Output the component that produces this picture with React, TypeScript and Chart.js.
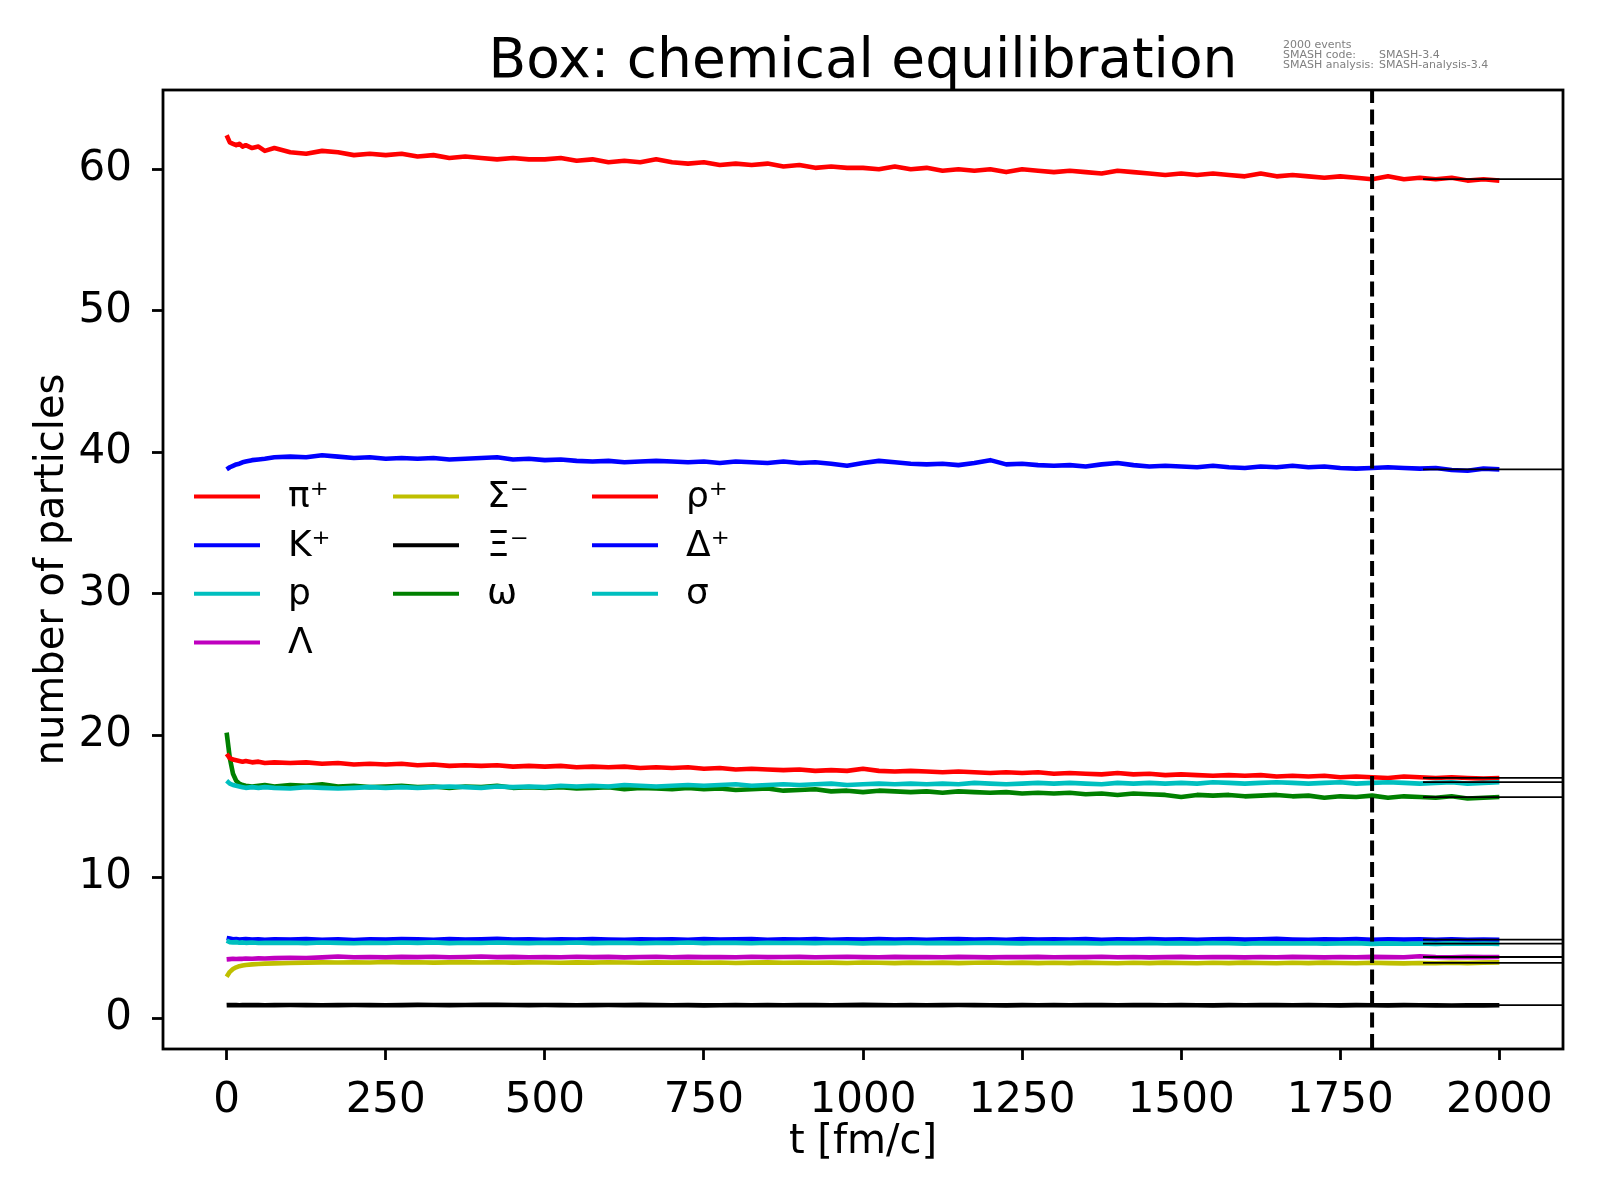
import { useEffect, useRef } from "react";
import { Chart, registerables } from "chart.js";

Chart.register(...registerables);

const FONT = "'DejaVu Sans', 'Liberation Sans', sans-serif";

// time axis [fm/c], finer at the start to catch the fast transients
const times = [
  0, 5, 10, 15, 20, 25, 30, 40, 50, 60, 75,
  100, 125, 150, 175, 200, 225, 250, 275,
  300, 325, 350, 375, 400, 425, 450, 475,
  500, 525, 550, 575, 600, 625, 650, 675,
  700, 725, 750, 775, 800, 825, 850, 875,
  900, 925, 950, 975, 1000, 1025, 1050, 1075,
  1100, 1125, 1150, 1175, 1200, 1225, 1250, 1275,
  1300, 1325, 1350, 1375, 1400, 1425, 1450, 1475,
  1500, 1525, 1550, 1575, 1600, 1625, 1650, 1675,
  1700, 1725, 1750, 1775, 1800, 1825, 1850, 1875,
  1900, 1925, 1950, 1975, 2000,
];

const piPlus = [
  62.4, 61.9, 61.8, 61.7, 61.8, 61.6, 61.7, 61.5, 61.6, 61.3, 61.5,
  61.2, 61.1, 61.3, 61.2, 61.0, 61.1, 61.0, 61.1,
  60.9, 61.0, 60.8, 60.9, 60.8, 60.7, 60.8, 60.7,
  60.7, 60.8, 60.6, 60.7, 60.5, 60.6, 60.5, 60.7,
  60.5, 60.4, 60.5, 60.3, 60.4, 60.3, 60.4, 60.2,
  60.3, 60.1, 60.2, 60.1, 60.1, 60.0, 60.2, 60.0,
  60.1, 59.9, 60.0, 59.9, 60.0, 59.8, 60.0, 59.9,
  59.8, 59.9, 59.8, 59.7, 59.9, 59.8, 59.7, 59.6,
  59.7, 59.6, 59.7, 59.6, 59.5, 59.7, 59.5, 59.6,
  59.5, 59.4, 59.5, 59.4, 59.3, 59.5, 59.3, 59.4,
  59.3, 59.4, 59.2, 59.3, 59.2,
];

const kPlus = [
  5.7, 5.65, 5.6, 5.62, 5.58, 5.6, 5.62, 5.58, 5.6, 5.57, 5.6,
  5.58, 5.62, 5.57, 5.6, 5.55, 5.6, 5.58, 5.62,
  5.6, 5.57, 5.62, 5.58, 5.6, 5.63, 5.58, 5.6,
  5.57, 5.6, 5.58, 5.62, 5.59, 5.56, 5.6, 5.58,
  5.6, 5.57, 5.61, 5.58, 5.6, 5.62, 5.57, 5.6,
  5.58, 5.61, 5.57, 5.6, 5.58, 5.62, 5.59, 5.6,
  5.57, 5.6, 5.62, 5.58, 5.6, 5.57, 5.61, 5.59,
  5.6, 5.58, 5.62, 5.57, 5.6, 5.59, 5.61, 5.58,
  5.6, 5.57, 5.6, 5.62, 5.58, 5.6, 5.63, 5.59,
  5.57, 5.6, 5.58, 5.61, 5.57, 5.6, 5.58, 5.6,
  5.57, 5.6, 5.56, 5.58, 5.57,
];

const proton = [
  5.5, 5.4, 5.38, 5.4, 5.36, 5.38, 5.35, 5.37, 5.34, 5.36, 5.35,
  5.36, 5.33, 5.37, 5.35, 5.32, 5.36, 5.34, 5.37,
  5.35, 5.38, 5.33, 5.36, 5.34, 5.37, 5.35, 5.33,
  5.36, 5.34, 5.37, 5.33, 5.35, 5.36, 5.32, 5.35,
  5.34, 5.37, 5.33, 5.36, 5.35, 5.32, 5.36, 5.34,
  5.35, 5.33, 5.36, 5.34, 5.31, 5.35, 5.33, 5.36,
  5.33, 5.35, 5.32, 5.34, 5.36, 5.33, 5.31, 5.34,
  5.32, 5.35, 5.33, 5.3, 5.34, 5.32, 5.35, 5.31,
  5.33, 5.3, 5.34, 5.32, 5.29, 5.33, 5.31, 5.3,
  5.32, 5.29, 5.31, 5.33, 5.28, 5.31, 5.29, 5.3,
  5.28, 5.31, 5.29, 5.3, 5.28,
];

const lambda = [
  4.18, 4.2, 4.22, 4.21, 4.23, 4.22, 4.24, 4.23, 4.25, 4.24, 4.27,
  4.3, 4.28, 4.32, 4.38, 4.33, 4.35, 4.32, 4.36,
  4.34, 4.37, 4.33, 4.35, 4.38, 4.34, 4.36, 4.33,
  4.35, 4.33, 4.37, 4.34, 4.36, 4.32, 4.35, 4.37,
  4.33, 4.36, 4.34, 4.35, 4.33, 4.37, 4.34, 4.35,
  4.36, 4.33, 4.35, 4.37, 4.34, 4.33, 4.36, 4.34,
  4.35, 4.33, 4.36, 4.34, 4.32, 4.35, 4.34, 4.36,
  4.33, 4.35, 4.34, 4.37, 4.33, 4.35, 4.32, 4.34,
  4.36, 4.33, 4.35, 4.34, 4.32, 4.35, 4.33, 4.36,
  4.34, 4.32, 4.35, 4.33, 4.36, 4.34, 4.33, 4.4,
  4.35, 4.33, 4.36, 4.34, 4.35,
];

const sigmaMinus = [
  2.95, 3.3, 3.5, 3.62, 3.7, 3.75, 3.79, 3.83, 3.86, 3.88, 3.9,
  3.93, 3.95, 3.97, 3.96, 3.98, 3.96, 4.0, 3.97,
  3.98, 3.95, 3.97, 3.99, 3.96, 3.98, 3.95, 3.97,
  3.96, 3.94, 3.97, 3.95, 3.98, 3.96, 3.94, 3.97,
  3.95, 3.97, 3.94, 3.96, 3.93, 3.95, 3.97, 3.94,
  3.96, 3.94, 3.95, 3.93, 3.96, 3.94, 3.92, 3.95,
  3.93, 3.95, 3.92, 3.94, 3.96, 3.93, 3.95, 3.92,
  3.94, 3.92, 3.95, 3.93, 3.91, 3.94, 3.92, 3.95,
  3.93, 3.91, 3.94, 3.92, 3.95, 3.93, 3.91, 3.94,
  3.92, 3.95, 3.93, 3.91, 3.94, 3.92, 3.9, 3.93,
  3.91, 3.94, 3.92, 3.95, 3.97,
];

const xiMinus = [
  0.95, 0.96, 0.95, 0.95, 0.94, 0.95, 0.96, 0.95, 0.95, 0.94, 0.95,
  0.96, 0.95, 0.94, 0.95, 0.96, 0.95, 0.94, 0.95,
  0.97, 0.96, 0.95, 0.96, 0.98, 0.97, 0.96, 0.95,
  0.96, 0.95, 0.94, 0.95, 0.96, 0.95, 0.97, 0.95,
  0.94, 0.95, 0.93, 0.94, 0.95, 0.94, 0.95, 0.94,
  0.95, 0.96, 0.94, 0.95, 0.97, 0.95, 0.94, 0.95,
  0.94, 0.95, 0.96, 0.95, 0.94, 0.93, 0.95, 0.94,
  0.95, 0.94, 0.96, 0.95, 0.94, 0.95, 0.96, 0.94,
  0.95, 0.94, 0.93, 0.95, 0.94, 0.96, 0.95, 0.94,
  0.95, 0.94, 0.93, 0.95, 0.94, 0.93, 0.95, 0.94,
  0.93, 0.92, 0.94, 0.93, 0.94,
];

const omega = [
  20.2, 18.4, 17.3, 16.8, 16.6, 16.5, 16.45, 16.4, 16.45, 16.5, 16.4,
  16.5, 16.45, 16.55, 16.4, 16.45, 16.35, 16.4, 16.45,
  16.35, 16.4, 16.3, 16.4, 16.35, 16.45, 16.3, 16.35,
  16.3, 16.35, 16.25, 16.3, 16.35, 16.2, 16.3, 16.25,
  16.2, 16.3, 16.2, 16.25, 16.15, 16.2, 16.25, 16.1,
  16.15, 16.2, 16.05, 16.1, 16.0, 16.1, 16.05, 16.0,
  16.05, 15.95, 16.05, 16.0, 15.95, 16.0, 15.9, 15.95,
  15.9, 15.95, 15.85, 15.9, 15.8, 15.9, 15.85, 15.8,
  15.65, 15.8, 15.75, 15.8, 15.7, 15.75, 15.8, 15.7,
  15.75, 15.6, 15.7, 15.65, 15.75, 15.6, 15.7, 15.65,
  15.6, 15.7, 15.55, 15.6, 15.65,
];

const rhoPlus = [
  18.7, 18.4, 18.3, 18.25, 18.2, 18.15, 18.2, 18.1, 18.15, 18.05, 18.1,
  18.05, 18.1, 18.0, 18.05, 17.95, 18.0, 17.95, 18.0,
  17.9, 17.95, 17.85, 17.9, 17.85, 17.9, 17.8, 17.85,
  17.8, 17.85, 17.75, 17.8, 17.75, 17.8, 17.7, 17.75,
  17.7, 17.75, 17.65, 17.7, 17.6, 17.65, 17.6, 17.55,
  17.6, 17.5, 17.55, 17.5, 17.65, 17.5, 17.45, 17.5,
  17.45, 17.4, 17.45, 17.4, 17.35, 17.4, 17.35, 17.4,
  17.3, 17.35, 17.3, 17.25, 17.35, 17.25, 17.3, 17.2,
  17.25, 17.2, 17.15, 17.2, 17.15, 17.2, 17.1, 17.15,
  17.1, 17.15, 17.05, 17.1, 17.05, 17.0, 17.1, 17.05,
  17.0, 17.05, 17.0, 16.95, 17.0,
];

const deltaPlus = [
  38.8, 38.95, 39.05, 39.15, 39.2, 39.3, 39.35, 39.45, 39.5, 39.55, 39.65,
  39.7, 39.65, 39.8, 39.7, 39.6, 39.65, 39.55, 39.6,
  39.55, 39.6, 39.5, 39.55, 39.6, 39.65, 39.5, 39.55,
  39.45, 39.5, 39.4, 39.35, 39.4, 39.3, 39.35, 39.4,
  39.35, 39.3, 39.35, 39.25, 39.35, 39.3, 39.25, 39.35,
  39.25, 39.3, 39.2, 39.05, 39.25, 39.4, 39.3, 39.2,
  39.15, 39.2, 39.1, 39.25, 39.45, 39.15, 39.2, 39.1,
  39.05, 39.1, 39.0, 39.15, 39.25, 39.1, 39.0, 39.05,
  39.0, 38.95, 39.05, 38.95, 38.9, 39.0, 38.95, 39.05,
  38.95, 39.0, 38.9, 38.85, 38.9, 38.95, 38.9, 38.85,
  38.9, 38.75, 38.7, 38.85, 38.8,
];

const sigma = [
  16.8, 16.6, 16.5, 16.45, 16.4, 16.35, 16.3, 16.35, 16.3, 16.35, 16.3,
  16.25, 16.35, 16.3, 16.25, 16.3, 16.35, 16.3, 16.35,
  16.3, 16.35, 16.4, 16.35, 16.3, 16.4, 16.35, 16.4,
  16.35, 16.45, 16.4, 16.45, 16.4, 16.5, 16.45, 16.4,
  16.45, 16.5, 16.45, 16.5, 16.55, 16.45, 16.5, 16.55,
  16.5, 16.55, 16.6, 16.5, 16.55, 16.6, 16.55, 16.6,
  16.55, 16.6, 16.55, 16.65, 16.6, 16.55, 16.6, 16.65,
  16.6, 16.65, 16.6, 16.55, 16.65, 16.6, 16.65, 16.6,
  16.65, 16.6, 16.7, 16.65, 16.6, 16.65, 16.7, 16.65,
  16.6, 16.65, 16.7, 16.6, 16.65, 16.7, 16.65, 16.6,
  16.65, 16.7, 16.6, 16.65, 16.7,
];

const speciesLabels = ["π⁺", "K⁺", "p", "Λ", "Σ⁻", "Ξ⁻", "ω", "ρ⁺", "Δ⁺", "σ"];
const speciesValues = [piPlus, kPlus, proton, lambda, sigmaMinus, xiMinus, omega, rhoPlus, deltaPlus, sigma];
const speciesColors = [
  "#ff0000", "#0000ff", "#00bfbf", "#bf00bf", "#bfbf00",
  "#000000", "#008000", "#ff0000", "#0000ff", "#00bfbf",
];

// equilibrium multiplicities, drawn as thin black lines at the end
const equilibrium = [59.3, 5.58, 5.29, 4.35, 3.93, 0.95, 15.65, 17.0, 38.8, 16.7];
const eqFrom = 1880;
const eqTo = 2100;
const tEquilibrated = 1800;

const xTicks = [0, 250, 500, 750, 1000, 1250, 1500, 1750, 2000];
const yTicks = [0, 10, 20, 30, 40, 50, 60];
const xMin = -100;
const xMax = 2100;
const yMin = -2.15;
const yMax = 65.6;

const title = "Box: chemical equilibration";
const metaLines = [
  ["2000 events", ""],
  ["SMASH code:", "SMASH-3.4"],
  ["SMASH analysis:", "SMASH-analysis-3.4"],
];

// matplotlib-like legend: 3 columns, filled column by column
const legendColumns = [[0, 1, 2, 3], [4, 5, 6], [7, 8, 9]];

const decorations = {
  id: "decorations",
  afterDraw(chart: any) {
    const { ctx, chartArea: a } = chart;
    ctx.save();

    // full frame (matplotlib spines)
    ctx.strokeStyle = "#000";
    ctx.lineWidth = 2.8;
    ctx.strokeRect(a.left, a.top, a.right - a.left, a.bottom - a.top);

    // title
    ctx.fillStyle = "#000";
    ctx.font = `55px ${FONT}`;
    ctx.textAlign = "center";
    ctx.textBaseline = "alphabetic";
    ctx.fillText(title, (a.left + a.right) / 2, 77);

    // small run info, top right
    ctx.fillStyle = "#808080";
    ctx.font = `11px ${FONT}`;
    ctx.textAlign = "left";
    metaLines.forEach(([k, v], i) => {
      const y = 48 + i * 9.8;
      ctx.fillText(k, 1283, y);
      if (v) ctx.fillText(v, 1379, y);
    });

    // legend
    const rowGap = 48.7;
    const y0 = (a.top + a.bottom) / 2 - 1.5 * rowGap;
    const colX = [31, 230, 429];
    ctx.font = `36px ${FONT}`;
    ctx.textBaseline = "middle";
    ctx.lineWidth = 4;
    legendColumns.forEach((col, c) => {
      col.forEach((idx, r) => {
        const x = a.left + colX[c];
        const y = y0 + r * rowGap;
        ctx.strokeStyle = speciesColors[idx];
        ctx.beginPath();
        ctx.moveTo(x, y);
        ctx.lineTo(x + 66, y);
        ctx.stroke();
        ctx.fillStyle = "#000";
        ctx.fillText(speciesLabels[idx], x + 94, y + 1);
      });
    });

    ctx.restore();
  },
};

export default function App() {
  const chartRef = useRef<HTMLCanvasElement | null>(null);

  useEffect(() => {
    if (!chartRef.current) return;
    document.body.style.margin = "0";

    const n = speciesLabels.length;
    const seriesSets = speciesValues.map((vals, i) => ({
      label: speciesLabels[i],
      data: times.map((t, j) => ({ x: t, y: vals[j] })),
      borderColor: speciesColors[i],
      borderWidth: 4.6,
      borderJoinStyle: "round" as const,
      pointRadius: 0,
      tension: 0,
      order: 100 - i,
    }));
    const eqSets = equilibrium.map((v, i) => ({
      label: "eq " + speciesLabels[i],
      data: [{ x: eqFrom, y: v }, { x: eqTo, y: v }],
      borderColor: "#000",
      borderWidth: 1.8,
      pointRadius: 0,
      order: 50 - i,
    }));
    const dashed = {
      label: "equilibrated",
      data: [{ x: tEquilibrated, y: yMin }, { x: tEquilibrated, y: yMax }],
      borderColor: "#000",
      borderWidth: 4,
      borderDash: [15, 6.5],
      pointRadius: 0,
      order: 50 - n - 1,
    };

    const tickGrid = {
      display: true,
      drawOnChartArea: false,
      drawTicks: true,
      tickLength: 11,
      tickWidth: 2.8,
      tickColor: "#000",
    };

    const chart = new Chart(chartRef.current, {
      type: "line",
      data: { datasets: [...seriesSets, ...eqSets, dashed] as any },
      options: {
        animation: false,
        responsive: false,
        devicePixelRatio: 1,
        layout: { padding: { top: 90, right: 37, bottom: 0, left: 0 } },
        plugins: {
          legend: { display: false },
          tooltip: { enabled: false },
          title: { display: false },
        },
        scales: {
          x: {
            type: "linear",
            min: xMin,
            max: xMax,
            afterBuildTicks: (s: any) => {
              s.ticks = xTicks.map((value) => ({ value }));
            },
            afterFit: (s: any) => {
              s.height = 151;
            },
            grid: tickGrid,
            border: { display: false },
            ticks: {
              font: { family: FONT, size: 42 },
              color: "#000",
              padding: 16,
              maxRotation: 0,
              autoSkip: false,
              callback: (v: any) => String(v),
            },
            title: {
              display: true,
              text: "t [fm/c]",
              font: { family: FONT, size: 40 },
              color: "#000",
              padding: { top: 0, bottom: 33 },
            },
          },
          y: {
            type: "linear",
            min: yMin,
            max: yMax,
            afterBuildTicks: (s: any) => {
              s.ticks = yTicks.map((value) => ({ value }));
            },
            afterFit: (s: any) => {
              s.width = 163;
            },
            grid: tickGrid,
            border: { display: false },
            ticks: {
              font: { family: FONT, size: 42 },
              color: "#000",
              padding: 20,
              autoSkip: false,
              callback: (v: any) => String(v),
            },
            title: {
              display: true,
              text: "number of particles",
              font: { family: FONT, size: 40 },
              color: "#000",
              padding: { top: 29, bottom: 0 },
            },
          },
        },
      },
      plugins: [decorations],
    });

    return () => {
      chart.destroy();
    };
  }, []);

  return (
    <div style={{ width: 1600, height: 1200, background: "#fff" }}>
      <canvas ref={chartRef} width={1600} height={1200} style={{ display: "block" }}></canvas>
    </div>
  );
}
